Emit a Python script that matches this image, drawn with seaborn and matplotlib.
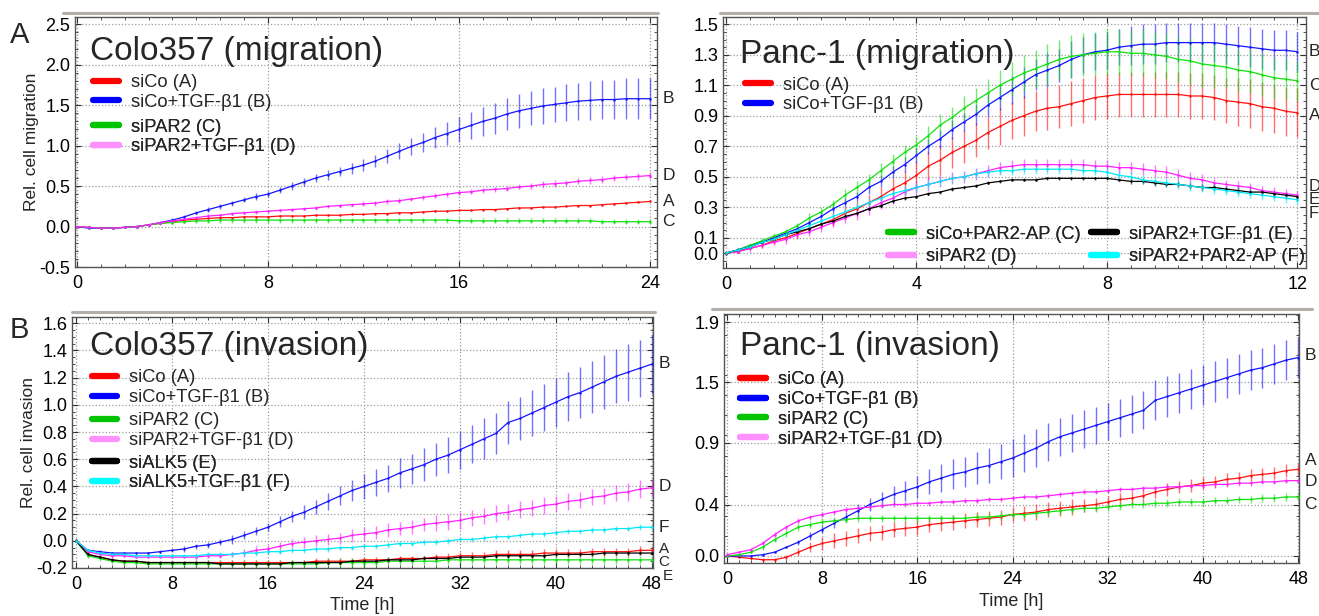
import numpy as np
import matplotlib
matplotlib.use('Agg')
import matplotlib.pyplot as plt
import seaborn as sns
from matplotlib.lines import Line2D
from matplotlib.ticker import MultipleLocator, FixedLocator, FormatStrFormatter
import matplotlib.transforms as mtransforms

sns.set_style('ticks')
plt.rcParams['font.family'] = ['Liberation Sans', 'DejaVu Sans']

# ---------------- data ----------------
# Colo357 migration, every 0.5 h
t_colo_mig = np.arange(0, 24.01, 0.5)
colo_mig_A = [0.00, -0.01, -0.02, -0.02, -0.01, 0.00, 0.02, 0.04, 0.06, 0.08,
              0.09, 0.10, 0.11, 0.11, 0.12, 0.12, 0.12, 0.13, 0.13, 0.13,
              0.14, 0.14, 0.14, 0.15, 0.15, 0.16, 0.16, 0.17, 0.17, 0.18,
              0.19, 0.19, 0.20, 0.20, 0.21, 0.21, 0.22, 0.23, 0.23, 0.24,
              0.24, 0.25, 0.26, 0.26, 0.27, 0.28, 0.29, 0.30, 0.31]
colo_mig_A_err = [0.00, 0.01, 0.01, 0.01, 0.01, 0.01, 0.01, 0.01, 0.01, 0.01,
                  0.01, 0.01, 0.01, 0.01, 0.01, 0.01, 0.01, 0.01, 0.01, 0.01,
                  0.01, 0.01, 0.01, 0.01, 0.01, 0.01, 0.01, 0.01, 0.01, 0.01,
                  0.01, 0.01, 0.01, 0.01, 0.01, 0.01, 0.01, 0.01, 0.01, 0.01,
                  0.01, 0.01, 0.01, 0.01, 0.01, 0.01, 0.01, 0.01, 0.01]
colo_mig_B = [0.00, -0.02, -0.02, -0.02, -0.01, 0.00, 0.02, 0.05, 0.08, 0.12,
              0.17, 0.21, 0.25, 0.29, 0.33, 0.37, 0.40, 0.45, 0.50, 0.55,
              0.60, 0.64, 0.68, 0.72, 0.76, 0.81, 0.87, 0.93, 0.99, 1.04,
              1.10, 1.15, 1.20, 1.25, 1.30, 1.34, 1.39, 1.43, 1.46, 1.49,
              1.51, 1.53, 1.55, 1.56, 1.57, 1.57, 1.58, 1.58, 1.58]
colo_mig_B_err = [0.01, 0.01, 0.01, 0.01, 0.01, 0.01, 0.01, 0.02, 0.02, 0.02,
                  0.02, 0.03, 0.03, 0.03, 0.03, 0.04, 0.04, 0.04, 0.05, 0.05,
                  0.05, 0.06, 0.06, 0.07, 0.07, 0.08, 0.09, 0.10, 0.11, 0.12,
                  0.13, 0.14, 0.16, 0.17, 0.18, 0.19, 0.20, 0.21, 0.21, 0.22,
                  0.22, 0.23, 0.23, 0.24, 0.24, 0.24, 0.25, 0.25, 0.25]
colo_mig_C = [0.00, -0.01, -0.02, -0.02, -0.01, 0.00, 0.02, 0.04, 0.05, 0.06,
              0.07, 0.07, 0.08, 0.08, 0.08, 0.08, 0.08, 0.08, 0.08, 0.08,
              0.08, 0.08, 0.08, 0.08, 0.08, 0.08, 0.08, 0.08, 0.08, 0.08,
              0.08, 0.08, 0.07, 0.07, 0.07, 0.07, 0.07, 0.07, 0.07, 0.07,
              0.07, 0.07, 0.07, 0.07, 0.06, 0.06, 0.06, 0.06, 0.06]
colo_mig_C_err = [0.01, 0.01, 0.01, 0.01, 0.01, 0.01, 0.02, 0.02, 0.02, 0.02,
                  0.03, 0.03, 0.03, 0.03, 0.03, 0.03, 0.03, 0.03, 0.03, 0.03,
                  0.03, 0.03, 0.03, 0.03, 0.03, 0.03, 0.03, 0.03, 0.03, 0.03,
                  0.03, 0.03, 0.03, 0.03, 0.03, 0.03, 0.03, 0.03, 0.03, 0.03,
                  0.03, 0.03, 0.03, 0.03, 0.03, 0.03, 0.03, 0.03, 0.03]
colo_mig_D = [0.00, -0.01, -0.02, -0.02, -0.01, 0.00, 0.02, 0.05, 0.07, 0.09,
              0.11, 0.13, 0.14, 0.16, 0.17, 0.18, 0.19, 0.20, 0.21, 0.22,
              0.23, 0.25, 0.26, 0.27, 0.28, 0.29, 0.31, 0.32, 0.34, 0.36,
              0.38, 0.40, 0.42, 0.43, 0.45, 0.46, 0.47, 0.49, 0.50, 0.52,
              0.53, 0.54, 0.56, 0.57, 0.58, 0.60, 0.61, 0.62, 0.63]
colo_mig_D_err = [0.01, 0.01, 0.01, 0.01, 0.01, 0.01, 0.01, 0.01, 0.01, 0.01,
                  0.02, 0.02, 0.02, 0.02, 0.02, 0.02, 0.02, 0.02, 0.02, 0.02,
                  0.02, 0.02, 0.02, 0.02, 0.03, 0.03, 0.03, 0.03, 0.03, 0.03,
                  0.03, 0.03, 0.03, 0.03, 0.03, 0.03, 0.03, 0.03, 0.04, 0.04,
                  0.04, 0.04, 0.04, 0.04, 0.04, 0.04, 0.04, 0.04, 0.04]

# Panc-1 migration, every 0.25 h
t_panc_mig = np.arange(0, 12.01, 0.25)
panc_mig_A = [0.00, 0.01, 0.03, 0.05, 0.08, 0.10, 0.13, 0.16, 0.19, 0.22,
              0.26, 0.29, 0.33, 0.37, 0.42, 0.46, 0.51, 0.57, 0.61, 0.66,
              0.70, 0.74, 0.79, 0.83, 0.87, 0.90, 0.93, 0.95, 0.96, 0.98,
              1.00, 1.02, 1.03, 1.04, 1.04, 1.04, 1.04, 1.04, 1.04, 1.03,
              1.03, 1.02, 1.00, 0.99, 0.98, 0.96, 0.95, 0.93, 0.92]
panc_mig_A_err = [0.01, 0.01, 0.01, 0.02, 0.02, 0.02, 0.03, 0.03, 0.03, 0.04,
                  0.04, 0.05, 0.05, 0.06, 0.07, 0.08, 0.09, 0.09, 0.10, 0.10,
                  0.11, 0.11, 0.11, 0.12, 0.12, 0.13, 0.13, 0.14, 0.14, 0.15,
                  0.15, 0.15, 0.15, 0.15, 0.15, 0.15, 0.15, 0.15, 0.15, 0.15,
                  0.15, 0.15, 0.15, 0.16, 0.16, 0.16, 0.16, 0.16, 0.16]
panc_mig_B = [0.00, 0.02, 0.05, 0.07, 0.10, 0.13, 0.16, 0.20, 0.24, 0.29,
              0.33, 0.37, 0.43, 0.47, 0.53, 0.58, 0.64, 0.70, 0.75, 0.81,
              0.86, 0.91, 0.97, 1.02, 1.07, 1.12, 1.17, 1.20, 1.23, 1.27,
              1.30, 1.32, 1.33, 1.35, 1.36, 1.37, 1.37, 1.38, 1.38, 1.38,
              1.38, 1.38, 1.37, 1.36, 1.35, 1.34, 1.33, 1.33, 1.32]
panc_mig_B_err = [0.01, 0.01, 0.01, 0.01, 0.02, 0.02, 0.02, 0.02, 0.03, 0.03,
                  0.03, 0.03, 0.04, 0.04, 0.04, 0.05, 0.05, 0.05, 0.06, 0.06,
                  0.06, 0.07, 0.07, 0.08, 0.09, 0.10, 0.10, 0.11, 0.11, 0.12,
                  0.12, 0.12, 0.12, 0.12, 0.13, 0.13, 0.13, 0.13, 0.13, 0.13,
                  0.13, 0.13, 0.13, 0.13, 0.13, 0.13, 0.13, 0.13, 0.13]
panc_mig_C = [0.00, 0.02, 0.05, 0.08, 0.11, 0.14, 0.18, 0.23, 0.27, 0.32,
              0.38, 0.43, 0.48, 0.54, 0.60, 0.66, 0.71, 0.77, 0.84, 0.89,
              0.95, 1.00, 1.05, 1.10, 1.14, 1.18, 1.21, 1.24, 1.27, 1.29,
              1.30, 1.31, 1.32, 1.32, 1.31, 1.31, 1.30, 1.29, 1.27, 1.26,
              1.24, 1.23, 1.22, 1.20, 1.19, 1.17, 1.15, 1.14, 1.13]
panc_mig_C_err = [0.01, 0.01, 0.01, 0.02, 0.02, 0.02, 0.02, 0.03, 0.03, 0.03,
                  0.04, 0.04, 0.04, 0.05, 0.05, 0.05, 0.06, 0.06, 0.07, 0.07,
                  0.08, 0.08, 0.09, 0.10, 0.11, 0.12, 0.12, 0.13, 0.13, 0.14,
                  0.14, 0.14, 0.15, 0.15, 0.15, 0.15, 0.15, 0.15, 0.15, 0.15,
                  0.15, 0.15, 0.14, 0.14, 0.14, 0.14, 0.13, 0.13, 0.13]
panc_mig_D = [0.00, 0.01, 0.03, 0.05, 0.07, 0.09, 0.12, 0.14, 0.17, 0.20,
              0.23, 0.26, 0.29, 0.33, 0.36, 0.40, 0.43, 0.45, 0.47, 0.49,
              0.50, 0.52, 0.54, 0.56, 0.57, 0.58, 0.58, 0.58, 0.58, 0.58,
              0.58, 0.57, 0.57, 0.56, 0.56, 0.55, 0.54, 0.53, 0.51, 0.49,
              0.48, 0.46, 0.45, 0.44, 0.43, 0.41, 0.40, 0.39, 0.38]
panc_mig_D_err = [0.01, 0.01, 0.02, 0.02, 0.02, 0.03, 0.03, 0.03, 0.03, 0.03,
                  0.03, 0.04, 0.04, 0.04, 0.04, 0.04, 0.04, 0.04, 0.04, 0.04,
                  0.04, 0.04, 0.04, 0.04, 0.04, 0.04, 0.04, 0.04, 0.04, 0.04,
                  0.04, 0.04, 0.04, 0.04, 0.04, 0.04, 0.04, 0.04, 0.04, 0.04,
                  0.04, 0.03, 0.03, 0.03, 0.03, 0.03, 0.03, 0.03, 0.03]
panc_mig_E = [0.00, 0.02, 0.04, 0.07, 0.09, 0.12, 0.14, 0.16, 0.19, 0.21,
              0.24, 0.26, 0.29, 0.31, 0.34, 0.36, 0.37, 0.39, 0.40, 0.42,
              0.43, 0.44, 0.46, 0.47, 0.48, 0.48, 0.48, 0.49, 0.49, 0.49,
              0.49, 0.49, 0.49, 0.48, 0.47, 0.47, 0.46, 0.45, 0.45, 0.44,
              0.43, 0.43, 0.42, 0.41, 0.40, 0.40, 0.39, 0.38, 0.37]
panc_mig_E_err = [0.01, 0.01, 0.01, 0.01, 0.01, 0.01, 0.01, 0.01, 0.01, 0.01,
                  0.01, 0.01, 0.01, 0.01, 0.01, 0.01, 0.01, 0.01, 0.01, 0.01,
                  0.01, 0.01, 0.01, 0.01, 0.01, 0.01, 0.01, 0.01, 0.01, 0.01,
                  0.01, 0.01, 0.01, 0.01, 0.02, 0.02, 0.02, 0.02, 0.02, 0.02,
                  0.02, 0.02, 0.02, 0.02, 0.02, 0.02, 0.02, 0.02, 0.02]
panc_mig_F = [0.00, 0.02, 0.04, 0.07, 0.09, 0.12, 0.15, 0.18, 0.21, 0.24,
              0.27, 0.30, 0.33, 0.36, 0.39, 0.41, 0.43, 0.45, 0.47, 0.49,
              0.50, 0.52, 0.53, 0.54, 0.54, 0.55, 0.55, 0.55, 0.55, 0.55,
              0.54, 0.54, 0.53, 0.51, 0.50, 0.48, 0.47, 0.46, 0.45, 0.44,
              0.43, 0.42, 0.41, 0.40, 0.39, 0.38, 0.37, 0.36, 0.35]
panc_mig_F_err = [0.01, 0.01, 0.01, 0.02, 0.02, 0.02, 0.02, 0.02, 0.02, 0.02,
                  0.02, 0.03, 0.03, 0.03, 0.03, 0.03, 0.03, 0.03, 0.03, 0.03,
                  0.03, 0.03, 0.03, 0.03, 0.03, 0.03, 0.03, 0.03, 0.03, 0.03,
                  0.03, 0.03, 0.03, 0.03, 0.03, 0.03, 0.03, 0.03, 0.03, 0.03,
                  0.03, 0.03, 0.03, 0.03, 0.03, 0.03, 0.03, 0.03, 0.03]

# Colo357 invasion, every 1 h
t_colo_inv = np.arange(0, 48.01, 1.0)
colo_inv_A = [0.00, -0.10, -0.12, -0.14, -0.15, -0.15, -0.16, -0.16, -0.16, -0.16,
              -0.16, -0.16, -0.16, -0.16, -0.16, -0.16, -0.16, -0.16, -0.16, -0.16,
              -0.15, -0.15, -0.15, -0.15, -0.14, -0.14, -0.14, -0.13, -0.13, -0.13,
              -0.12, -0.12, -0.11, -0.11, -0.11, -0.10, -0.10, -0.10, -0.10, -0.09,
              -0.09, -0.09, -0.09, -0.08, -0.08, -0.08, -0.08, -0.07, -0.07]
colo_inv_A_err = [0.01, 0.01, 0.01, 0.01, 0.01, 0.01, 0.01, 0.01, 0.01, 0.01,
                  0.01, 0.02, 0.02, 0.02, 0.02, 0.02, 0.02, 0.02, 0.02, 0.02,
                  0.02, 0.02, 0.02, 0.02, 0.02, 0.02, 0.02, 0.02, 0.02, 0.02,
                  0.02, 0.03, 0.03, 0.03, 0.03, 0.03, 0.03, 0.03, 0.03, 0.03,
                  0.03, 0.03, 0.03, 0.03, 0.03, 0.03, 0.03, 0.03, 0.03]
colo_inv_B = [0.00, -0.07, -0.08, -0.09, -0.09, -0.09, -0.09, -0.08, -0.07, -0.06,
              -0.04, -0.03, -0.01, 0.01, 0.04, 0.07, 0.10, 0.14, 0.18, 0.21,
              0.25, 0.29, 0.33, 0.37, 0.40, 0.43, 0.46, 0.50, 0.53, 0.56,
              0.60, 0.63, 0.67, 0.71, 0.75, 0.79, 0.87, 0.90, 0.94, 0.98,
              1.02, 1.06, 1.09, 1.13, 1.17, 1.21, 1.24, 1.27, 1.30]
colo_inv_B_err = [0.01, 0.01, 0.01, 0.01, 0.01, 0.01, 0.01, 0.01, 0.01, 0.02,
                  0.02, 0.02, 0.02, 0.03, 0.03, 0.03, 0.03, 0.04, 0.04, 0.05,
                  0.05, 0.06, 0.07, 0.08, 0.09, 0.10, 0.10, 0.11, 0.11, 0.12,
                  0.12, 0.13, 0.14, 0.14, 0.15, 0.15, 0.16, 0.16, 0.17, 0.17,
                  0.18, 0.18, 0.19, 0.19, 0.20, 0.20, 0.21, 0.21, 0.22]
colo_inv_C = [0.00, -0.11, -0.13, -0.15, -0.16, -0.16, -0.17, -0.17, -0.17, -0.17,
              -0.17, -0.17, -0.17, -0.17, -0.17, -0.17, -0.17, -0.17, -0.17, -0.17,
              -0.17, -0.16, -0.16, -0.16, -0.16, -0.16, -0.15, -0.15, -0.15, -0.15,
              -0.15, -0.14, -0.14, -0.14, -0.14, -0.14, -0.14, -0.14, -0.14, -0.14,
              -0.14, -0.14, -0.14, -0.14, -0.14, -0.14, -0.14, -0.14, -0.14]
colo_inv_C_err = [0.01, 0.02, 0.02, 0.02, 0.02, 0.02, 0.02, 0.02, 0.02, 0.02,
                  0.03, 0.03, 0.03, 0.03, 0.03, 0.03, 0.03, 0.03, 0.03, 0.03,
                  0.03, 0.03, 0.03, 0.03, 0.03, 0.03, 0.03, 0.03, 0.03, 0.03,
                  0.03, 0.03, 0.03, 0.03, 0.03, 0.03, 0.03, 0.03, 0.03, 0.03,
                  0.03, 0.03, 0.03, 0.03, 0.03, 0.03, 0.03, 0.03, 0.03]
colo_inv_D = [0.00, -0.08, -0.10, -0.11, -0.11, -0.12, -0.12, -0.12, -0.12, -0.12,
              -0.12, -0.11, -0.11, -0.10, -0.09, -0.07, -0.06, -0.04, -0.02, -0.01,
              0.00, 0.01, 0.02, 0.04, 0.05, 0.06, 0.08, 0.09, 0.10, 0.12,
              0.13, 0.14, 0.15, 0.17, 0.18, 0.20, 0.21, 0.23, 0.24, 0.26,
              0.27, 0.29, 0.30, 0.32, 0.33, 0.35, 0.36, 0.38, 0.39]
colo_inv_D_err = [0.01, 0.01, 0.01, 0.01, 0.01, 0.01, 0.01, 0.01, 0.01, 0.01,
                  0.02, 0.02, 0.02, 0.02, 0.03, 0.03, 0.03, 0.03, 0.03, 0.04,
                  0.04, 0.04, 0.04, 0.05, 0.05, 0.05, 0.05, 0.05, 0.05, 0.05,
                  0.06, 0.06, 0.06, 0.06, 0.06, 0.06, 0.06, 0.06, 0.06, 0.06,
                  0.06, 0.06, 0.06, 0.06, 0.06, 0.06, 0.065, 0.065, 0.065]
colo_inv_E = [0.00, -0.10, -0.12, -0.14, -0.15, -0.15, -0.16, -0.16, -0.16, -0.16,
              -0.16, -0.16, -0.17, -0.17, -0.17, -0.17, -0.17, -0.17, -0.16, -0.16,
              -0.16, -0.16, -0.16, -0.15, -0.15, -0.15, -0.14, -0.14, -0.14, -0.13,
              -0.13, -0.13, -0.12, -0.12, -0.12, -0.11, -0.11, -0.11, -0.11, -0.11,
              -0.10, -0.10, -0.10, -0.10, -0.09, -0.09, -0.09, -0.09, -0.09]
colo_inv_E_err = [0.01, 0.01, 0.01, 0.01, 0.01, 0.01, 0.01, 0.01, 0.01, 0.01,
                  0.01, 0.01, 0.01, 0.01, 0.01, 0.01, 0.01, 0.01, 0.01, 0.01,
                  0.01, 0.01, 0.01, 0.01, 0.01, 0.015, 0.015, 0.015, 0.015, 0.015,
                  0.015, 0.015, 0.015, 0.015, 0.015, 0.015, 0.015, 0.015, 0.015, 0.015,
                  0.015, 0.015, 0.015, 0.015, 0.015, 0.015, 0.015, 0.015, 0.015]
colo_inv_F = [0.00, -0.07, -0.09, -0.10, -0.10, -0.11, -0.11, -0.11, -0.11, -0.11,
              -0.11, -0.10, -0.10, -0.10, -0.09, -0.09, -0.08, -0.08, -0.07, -0.07,
              -0.06, -0.06, -0.05, -0.05, -0.04, -0.04, -0.03, -0.02, -0.02, -0.01,
              -0.01, 0.00, 0.01, 0.01, 0.02, 0.03, 0.03, 0.04, 0.05, 0.05,
              0.06, 0.07, 0.07, 0.08, 0.08, 0.09, 0.09, 0.10, 0.10]
colo_inv_F_err = [0.01, 0.01, 0.01, 0.01, 0.01, 0.01, 0.01, 0.01, 0.01, 0.01,
                  0.02, 0.02, 0.02, 0.02, 0.02, 0.02, 0.02, 0.02, 0.02, 0.02,
                  0.02, 0.02, 0.02, 0.02, 0.02, 0.02, 0.02, 0.02, 0.02, 0.02,
                  0.02, 0.02, 0.02, 0.02, 0.02, 0.02, 0.02, 0.02, 0.02, 0.02,
                  0.02, 0.02, 0.02, 0.02, 0.02, 0.02, 0.02, 0.02, 0.02]

# Panc-1 invasion, every 1 h
t_panc_inv = np.arange(0, 48.01, 1.0)
panc_inv_A = [0.00, -0.01, -0.02, -0.03, -0.03, -0.01, 0.03, 0.07, 0.10, 0.12,
              0.14, 0.16, 0.18, 0.19, 0.21, 0.22, 0.23, 0.25, 0.26, 0.27,
              0.28, 0.29, 0.30, 0.31, 0.33, 0.34, 0.35, 0.37, 0.38, 0.39,
              0.40, 0.41, 0.43, 0.45, 0.46, 0.48, 0.51, 0.53, 0.55, 0.56,
              0.58, 0.59, 0.61, 0.62, 0.64, 0.65, 0.66, 0.68, 0.69]
panc_inv_A_err = [0.01, 0.01, 0.01, 0.01, 0.01, 0.02, 0.03, 0.04, 0.05, 0.06,
                  0.06, 0.06, 0.06, 0.06, 0.06, 0.06, 0.06, 0.06, 0.06, 0.06,
                  0.06, 0.06, 0.06, 0.06, 0.06, 0.06, 0.06, 0.06, 0.06, 0.06,
                  0.05, 0.05, 0.05, 0.05, 0.05, 0.05, 0.05, 0.05, 0.05, 0.05,
                  0.05, 0.05, 0.05, 0.05, 0.05, 0.05, 0.05, 0.05, 0.05]
panc_inv_B = [0.00, 0.00, 0.00, 0.01, 0.03, 0.07, 0.11, 0.16, 0.21, 0.26,
              0.31, 0.36, 0.41, 0.45, 0.49, 0.52, 0.55, 0.59, 0.62, 0.65,
              0.67, 0.70, 0.72, 0.75, 0.78, 0.82, 0.86, 0.91, 0.95, 0.98,
              1.01, 1.04, 1.07, 1.10, 1.13, 1.16, 1.24, 1.27, 1.30, 1.33,
              1.36, 1.39, 1.42, 1.45, 1.48, 1.50, 1.53, 1.56, 1.58]
panc_inv_B_err = [0.01, 0.01, 0.01, 0.01, 0.01, 0.01, 0.02, 0.03, 0.03, 0.04,
                  0.04, 0.05, 0.05, 0.06, 0.07, 0.08, 0.09, 0.10, 0.11, 0.12,
                  0.12, 0.13, 0.14, 0.14, 0.15, 0.15, 0.15, 0.15, 0.15, 0.15,
                  0.15, 0.15, 0.15, 0.15, 0.15, 0.15, 0.16, 0.16, 0.16, 0.16,
                  0.16, 0.16, 0.16, 0.16, 0.16, 0.16, 0.16, 0.16, 0.16]
panc_inv_C = [0.00, 0.01, 0.03, 0.07, 0.13, 0.18, 0.23, 0.25, 0.27, 0.28,
              0.29, 0.30, 0.30, 0.30, 0.30, 0.30, 0.30, 0.30, 0.30, 0.30,
              0.30, 0.31, 0.31, 0.32, 0.33, 0.33, 0.34, 0.35, 0.36, 0.37,
              0.38, 0.38, 0.39, 0.40, 0.41, 0.41, 0.42, 0.42, 0.43, 0.43,
              0.43, 0.44, 0.44, 0.45, 0.45, 0.46, 0.46, 0.47, 0.47]
panc_inv_C_err = [0.01, 0.01, 0.01, 0.02, 0.02, 0.03, 0.03, 0.03, 0.03, 0.03,
                  0.03, 0.03, 0.03, 0.03, 0.03, 0.03, 0.03, 0.03, 0.03, 0.03,
                  0.03, 0.03, 0.03, 0.03, 0.03, 0.03, 0.03, 0.03, 0.03, 0.03,
                  0.03, 0.03, 0.03, 0.03, 0.03, 0.03, 0.03, 0.03, 0.03, 0.03,
                  0.03, 0.03, 0.03, 0.03, 0.03, 0.03, 0.03, 0.03, 0.03]
panc_inv_D = [0.01, 0.03, 0.05, 0.10, 0.17, 0.23, 0.28, 0.31, 0.33, 0.35,
              0.37, 0.38, 0.39, 0.40, 0.41, 0.41, 0.42, 0.42, 0.43, 0.43,
              0.44, 0.44, 0.45, 0.45, 0.46, 0.47, 0.47, 0.48, 0.49, 0.50,
              0.51, 0.51, 0.52, 0.53, 0.53, 0.54, 0.54, 0.55, 0.55, 0.56,
              0.56, 0.57, 0.57, 0.58, 0.58, 0.59, 0.59, 0.60, 0.60]
panc_inv_D_err = [0.01, 0.01, 0.01, 0.02, 0.02, 0.02, 0.02, 0.02, 0.02, 0.02,
                  0.02, 0.02, 0.02, 0.02, 0.02, 0.02, 0.02, 0.02, 0.02, 0.02,
                  0.02, 0.02, 0.02, 0.02, 0.02, 0.02, 0.02, 0.02, 0.02, 0.02,
                  0.02, 0.02, 0.02, 0.02, 0.02, 0.02, 0.02, 0.02, 0.02, 0.02,
                  0.02, 0.02, 0.02, 0.02, 0.02, 0.02, 0.02, 0.02, 0.02]

labels_colo_mig = ['siCo (A)', 'siCo+TGF-β1 (B)', 'siPAR2 (C)', 'siPAR2+TGF-β1 (D)']
labels_panc_mig = ['siCo (A)', 'siCo+TGF-β1 (B)', 'siCo+PAR2-AP (C)', 'siPAR2 (D)',
                   'siPAR2+TGF-β1 (E)', 'siPAR2+PAR2-AP (F)']
labels_colo_inv = ['siCo (A)', 'siCo+TGF-β1 (B)', 'siPAR2 (C)', 'siPAR2+TGF-β1 (D)',
                   'siALK5 (E)', 'siALK5+TGF-β1 (F)']
labels_panc_inv = ['siCo (A)', 'siCo+TGF-β1 (B)', 'siPAR2 (C)', 'siPAR2+TGF-β1 (D)']

# ---------------- styling ----------------
line_col = {'A': '#ff1010', 'B': '#1515ff', 'C': '#10e010', 'D': '#ff20ff',
            'E': '#000000', 'F': '#00e8f8'}
leg_col = {'A': '#ff0000', 'B': '#0000ff', 'C': '#00c400', 'D': '#ff90ff',
           'E': '#000000', 'F': '#00ffff'}

W, H = 1319, 616
fig = plt.figure(figsize=(W / 100, H / 100), dpi=100)


def box(l, t, r, b):
    return [l / W, 1 - b / H, (r - l) / W, (b - t) / H]


def draw(ax, t, series):
    for key, mean, err in series:
        c = line_col[key]
        ax.errorbar(t, mean, yerr=err, fmt='none', ecolor=c, elinewidth=1.0,
                    alpha=0.6, capsize=0, zorder=2)
        sns.lineplot(x=t, y=mean, color=c, lw=0.9, marker='.', markersize=3.5,
                     markeredgewidth=0, ax=ax, legend=False, zorder=3)


def style(ax, xlim, ylim, xmaj, xmin, ymin_step):
    ax.set_xlim(*xlim)
    ax.set_ylim(*ylim)
    ax.xaxis.set_major_locator(FixedLocator(xmaj))
    ax.xaxis.set_minor_locator(MultipleLocator(xmin))
    ax.yaxis.set_minor_locator(MultipleLocator(ymin_step))
    ax.grid(True, which='major', ls=':', color='#9a9a9a', lw=0.9)
    ax.tick_params(which='both', direction='in', top=True, right=True,
                   labelsize=13, colors='#303030', labelcolor='black')
    ax.tick_params(which='major', length=4)
    ax.tick_params(axis='x', which='major', pad=6)
    ax.tick_params(which='minor', length=2.5)
    for s in ax.spines.values():
        s.set_color('#555555')
        s.set_linewidth(1.0)
    ax.set_xlabel('')
    ax.set_ylabel('')


def legend(ax, keys, labels, x, y, ncol=1, spacing=0.15):
    handles = [Line2D([], [], color=leg_col[k], lw=4.5) for k in keys]
    lg = ax.legend(handles, labels, loc='upper left', bbox_to_anchor=(x, y),
                   frameon=False, fontsize=13.2, handlelength=1.4,
                   handletextpad=0.65, labelspacing=spacing, borderaxespad=0,
                   borderpad=0, ncol=ncol, columnspacing=0.6)
    ax.add_artist(lg)


def end_labels(ax, items):
    tr = mtransforms.blended_transform_factory(ax.transAxes, ax.transData)
    for lab, yv, dx, size in items:
        ax.annotate(lab, xy=(1, yv), xycoords=tr, xytext=(dx, 0),
                    textcoords='offset points', va='center', ha='left',
                    fontsize=size, annotation_clip=False)


# Panel A: Colo357 migration
ax1 = fig.add_axes(box(75, 17, 657, 267))
draw(ax1, t_colo_mig, [('A', colo_mig_A, colo_mig_A_err), ('B', colo_mig_B, colo_mig_B_err),
                       ('C', colo_mig_C, colo_mig_C_err), ('D', colo_mig_D, colo_mig_D_err)])
style(ax1, (-0.08, 24.29), (-0.5, 2.59), [0, 8, 16, 24], 1, 0.1)
ax1.set_yticks(np.arange(-0.5, 2.51, 0.5))
ax1.yaxis.set_major_formatter(FormatStrFormatter('%.1f'))
ax1.set_ylabel('Rel. cell migration', fontsize=12.5, labelpad=0)
ax1.text(0.026, 0.828, 'Colo357 (migration)', transform=ax1.transAxes,
         fontsize=24, va='baseline')
legend(ax1, ['A', 'B'], labels_colo_mig[:2], 0.031, 0.772)
legend(ax1, ['C', 'D'], labels_colo_mig[2:], 0.031, 0.594)
end_labels(ax1, [('B', 1.58, 4, 12.5), ('D', 0.63, 4, 12.5), ('A', 0.31, 4, 12.5),
                 ('C', 0.06, 4, 12.5)])

# Panel B: Panc-1 migration
ax2 = fig.add_axes(box(723, 17, 1306, 268))
draw(ax2, t_panc_mig, [('A', panc_mig_A, panc_mig_A_err), ('B', panc_mig_B, panc_mig_B_err),
                       ('C', panc_mig_C, panc_mig_C_err), ('D', panc_mig_D, panc_mig_D_err),
                       ('E', panc_mig_E, panc_mig_E_err), ('F', panc_mig_F, panc_mig_F_err)])
style(ax2, (-0.063, 12.18), (-0.098, 1.548), [0, 4, 8, 12], 0.5, 0.05)
ax2.set_yticks([0.0, 0.1, 0.3, 0.5, 0.7, 0.9, 1.1, 1.3, 1.5])
ax2.yaxis.set_major_formatter(FormatStrFormatter('%.1f'))
ax2.text(0.029, 0.817, 'Panc-1 (migration)', transform=ax2.transAxes,
         fontsize=24, va='baseline')
legend(ax2, ['A', 'B'], labels_panc_mig[:2], 0.038, 0.762)
legend(ax2, ['C', 'D', 'E', 'F'], labels_panc_mig[2:], 0.283, 0.168, ncol=2, spacing=0.3)
end_labels(ax2, [('B', 1.32, 2, 12.5), ('C', 1.10, 2, 12.5), ('A', 0.905, 2, 12.5),
                 ('D', 0.435, 2, 12), ('E', 0.35, 2, 12), ('F', 0.26, 2, 12)])

# Panel C: Colo357 invasion
ax3 = fig.add_axes(box(72, 317, 653, 568))
draw(ax3, t_colo_inv, [('A', colo_inv_A, colo_inv_A_err), ('B', colo_inv_B, colo_inv_B_err),
                       ('C', colo_inv_C, colo_inv_C_err), ('D', colo_inv_D, colo_inv_D_err),
                       ('E', colo_inv_E, colo_inv_E_err), ('F', colo_inv_F, colo_inv_F_err)])
style(ax3, (-0.33, 48.08), (-0.2, 1.646), [0, 8, 16, 24, 32, 40, 48], 1, 0.05)
ax3.set_yticks(np.arange(-0.2, 1.61, 0.2))
ax3.yaxis.set_major_formatter(FormatStrFormatter('%.1f'))
ax3.set_ylabel('Rel. cell invasion', fontsize=12.5, labelpad=0)
ax3.set_xlabel('Time [h]', fontsize=13, labelpad=3)
ax3.text(0.031, 0.849, 'Colo357 (invasion)', transform=ax3.transAxes,
         fontsize=24, va='baseline')
legend(ax3, ['A', 'B'], labels_colo_inv[:2], 0.034, 0.792)
legend(ax3, ['C', 'D'], labels_colo_inv[2:4], 0.034, 0.620)
legend(ax3, ['E', 'F'], labels_colo_inv[4:], 0.034, 0.452)
end_labels(ax3, [('B', 1.307, 4, 12.5), ('D', 0.396, 4, 12.5), ('F', 0.10, 4, 12.5),
                 ('A', -0.062, 4, 11), ('C', -0.155, 4, 11), ('E', -0.26, 7, 11)])

# Panel D: Panc-1 invasion
ax4 = fig.add_axes(box(724, 314, 1299, 563))
draw(ax4, t_panc_inv, [('A', panc_inv_A, panc_inv_A_err), ('B', panc_inv_B, panc_inv_B_err),
                       ('C', panc_inv_C, panc_inv_C_err), ('D', panc_inv_D, panc_inv_D_err)])
style(ax4, (-0.25, 48.07), (-0.056, 1.927), [0, 8, 16, 24, 32, 40, 48], 1, 0.16)
ax4.set_yticks([0.0, 0.406, 0.90, 1.385, 1.863])
ax4.set_yticklabels(['0.0', '0.4', '0.9', '1.5', '1.9'])
ax4.set_xlabel('Time [h]', fontsize=13, labelpad=3)
ax4.text(0.028, 0.835, 'Panc-1 (invasion)', transform=ax4.transAxes,
         fontsize=24, va='baseline')
legend(ax4, ['A', 'B', 'C', 'D'], labels_panc_inv, 0.028, 0.77)
end_labels(ax4, [('B', 1.60, 4, 12.5), ('A', 0.76, 4, 12.5), ('D', 0.59, 4, 12.5),
                 ('C', 0.41, 4, 12.5)])

# panel letters and separator rules
fig.text(10 / W, 1 - 43 / H, 'A', fontsize=21, va='baseline')
fig.text(10 / W, 1 - 338 / H, 'B', fontsize=21, va='baseline')
for x0, x1, y in [(63, 658, 13), (720, 1319, 13), (72, 655, 312), (712, 1312, 308.5)]:
    fig.add_artist(Line2D([x0 / W, x1 / W], [1 - y / H, 1 - y / H],
                          transform=fig.transFigure, color='#b3afa8', lw=2.2))

fig.savefig('out.png', dpi=100)
